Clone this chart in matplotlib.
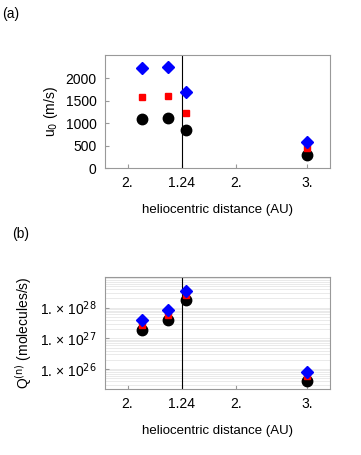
import numpy as np
import matplotlib.pyplot as plt

plt.rcParams['font.family'] = ['Liberation Sans', 'DejaVu Sans']

# x positions (axis units) of the four observations and the tick labels
x_obs = [1.63, 2.81, 3.59, 8.96]
tick_pos = [1.0, 3.42, 5.82, 8.98]
tick_lab = ['2.', '1.24', '2.', '3.']
x_line = 3.42

# (a) expansion velocity u0 (m/s)
u0_blue = [2222, 2244, 1688, 577]
u0_red = [1590, 1612, 1234, 444]
u0_black = [1094, 1117, 850, 295]

# (b) production rate Q (molecules/s), log10
q_blue = [27.60, 27.92, 28.55, 25.89]
q_red = [27.45, 27.77, 28.42, 25.76]
q_black = [27.26, 27.60, 28.25, 25.60]

fig = plt.figure(figsize=(3.61, 4.55), dpi=100)
W, H = 361, 455
axa = fig.add_axes([105 / W, 1 - 168 / H, 225 / W, 113 / H])
axb = fig.add_axes([105 / W, 1 - 389 / H, 225 / W, 112 / H])

for ax in (axa, axb):
    for s in ax.spines.values():
        s.set_color('#999999')
    ax.set_xlim(0, 10)
    ax.set_xticks(tick_pos)
    ax.set_xticklabels(tick_lab)
    ax.tick_params(direction='in', length=3, color='#999999', labelsize=10, pad=6)
    ax.axvline(x_line, color='black', lw=0.8)
    ax.set_xlabel('heliocentric distance (AU)', fontsize=9.5, labelpad=10)

axa.plot(x_obs, u0_black, 'o', color='black', ms=7.5, zorder=3)
axa.plot(x_obs, u0_red, 's', color='red', ms=5, zorder=4)
axa.plot(x_obs, u0_blue, 'D', color='blue', ms=6.5, zorder=5)
axa.set_ylim(0, 2520)
axa.set_yticks([0, 500, 1000, 1500, 2000])
axa.set_ylabel('u$_0$ (m/s)', fontsize=10)

axb.set_yscale('log')
axb.plot(x_obs, 10 ** np.array(q_black), 'o', color='black', ms=7.5, zorder=3)
axb.plot(x_obs, 10 ** np.array(q_red), 's', color='red', ms=5, zorder=4)
axb.plot(x_obs, 10 ** np.array(q_blue), 'D', color='blue', ms=6.5, zorder=5)
axb.set_ylim(10 ** 25.35, 10 ** 29.0)
axb.set_yticks([1e26, 1e27, 1e28])
axb.set_yticklabels(['1. × 10$^{26}$', '1. × 10$^{27}$', '1. × 10$^{28}$'])
axb.yaxis.set_minor_formatter(plt.NullFormatter())
axb.tick_params(axis='y', which='minor', length=0)
axb.grid(True, which='both', axis='y', color='#e6e6e6', lw=0.6)
axb.set_axisbelow(True)
axb.set_ylabel(r'Q$^{\mathrm{(n)}}$ (molecules/s)', fontsize=10)

fig.text(2 / W, 1 - 14 / H, '(a)', fontsize=10, va='center')
fig.text(12 / W, 1 - 234 / H, '(b)', fontsize=10, va='center')

fig.savefig('out.png', dpi=100)
